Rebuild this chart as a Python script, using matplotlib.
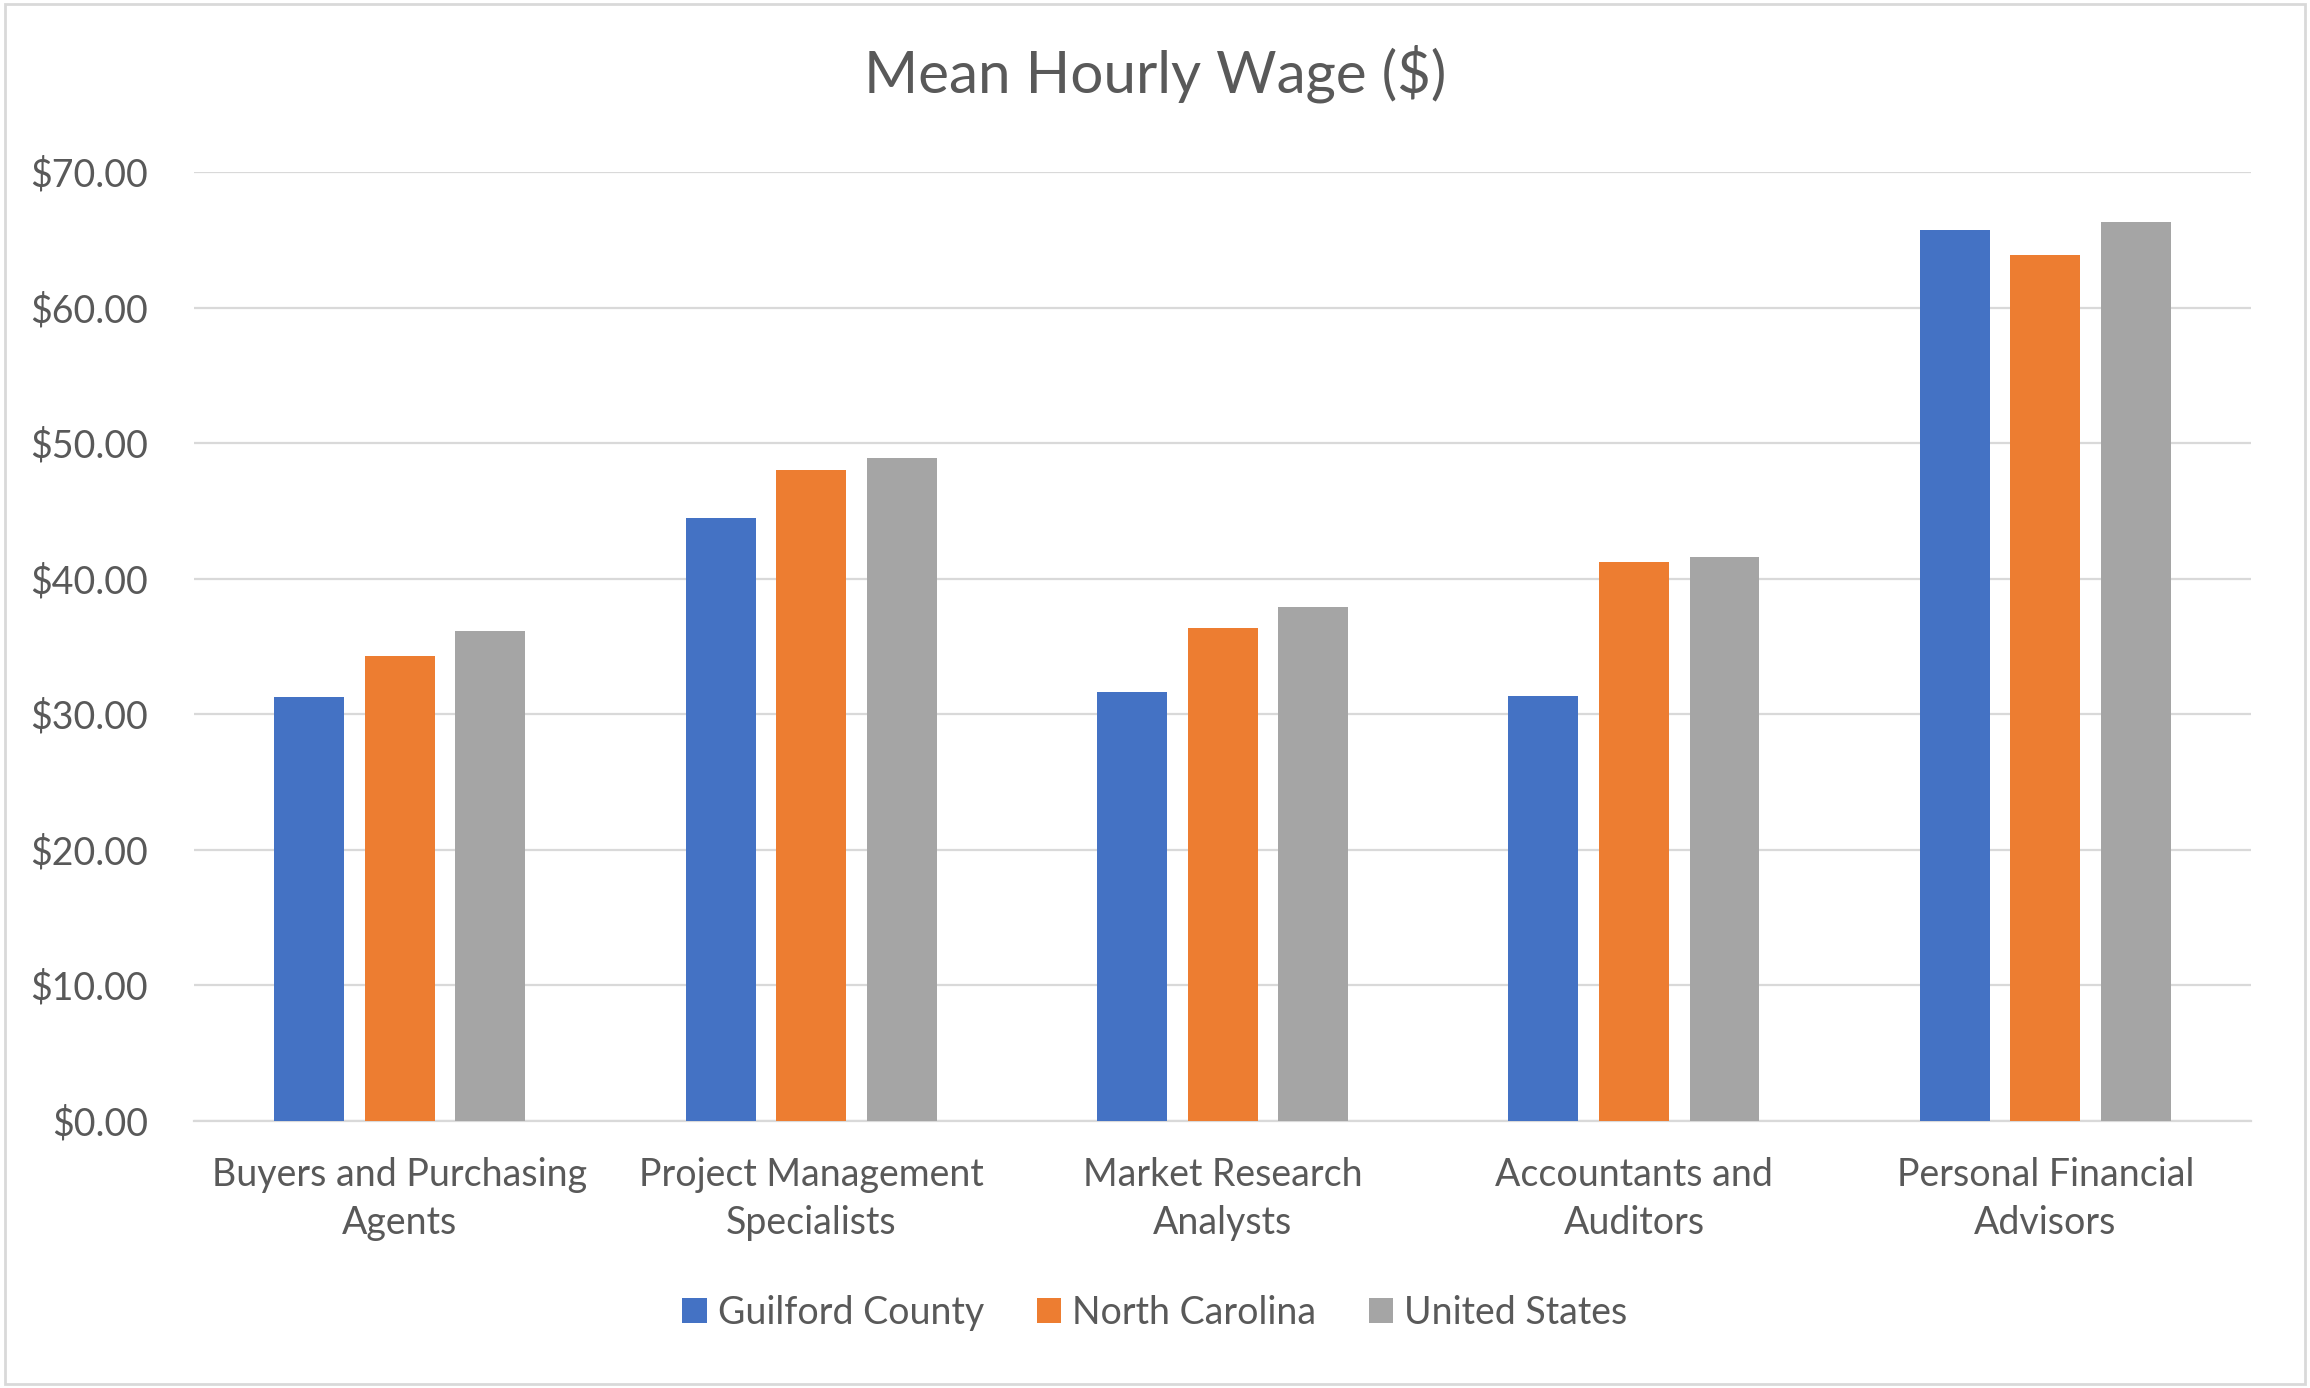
import numpy as np
import matplotlib.pyplot as plt
from matplotlib.patches import Rectangle
from matplotlib.ticker import FuncFormatter

# Данные
categories = ["Buyers and Purchasing\nAgents", "Project Management\nSpecialists",
              "Market Research\nAnalysts", "Accountants and\nAuditors",
              "Personal Financial\nAdvisors"]
guilford = [31.29, 44.46, 31.60, 31.37, 65.70]
north_carolina = [34.27, 48.00, 36.36, 41.20, 63.85]
united_states = [36.12, 48.90, 37.90, 41.60, 66.29]
series_names = ["Guilford County", "North Carolina", "United States"]
colors = ["#4472C4", "#ED7D31", "#A5A5A5"]

plt.rcParams["font.family"] = ["Lato", "DejaVu Sans"]
text_color = "#595959"

fig = plt.figure(figsize=(23.1, 13.88), dpi=100)
ax = fig.add_axes([0.084, 0.1927, 0.8905, 0.6833])

x = np.arange(len(categories))
width = 0.17
step = 0.22
for i, (vals, name, c) in enumerate(zip([guilford, north_carolina, united_states], series_names, colors)):
    ax.bar(x + (i - 1) * step, vals, width, color=c, label=name, zorder=3)

ax.set_xlim(-0.5, len(categories) - 0.5)
ax.set_ylim(0, 70)
ax.set_yticks(np.arange(0, 71, 10))
ax.yaxis.set_major_formatter(FuncFormatter(lambda v, p: f"${v:.2f}"))
ax.set_xticks(x)
ax.set_xticklabels(categories, linespacing=1.42)

ax.grid(axis="y", color="#D9D9D9", linewidth=1.6, zorder=0)
for s in ["top", "right", "left"]:
    ax.spines[s].set_visible(False)
ax.spines["bottom"].set_color("#D9D9D9")
ax.spines["bottom"].set_linewidth(1.6)
ax.tick_params(axis="both", length=0, labelsize=27, labelcolor=text_color)
ax.tick_params(axis="x", pad=26)
ax.tick_params(axis="y", pad=33)

fig.text(0.5, 0.968, "Mean Hourly Wage ($)", ha="center", va="top", fontsize=42, color=text_color)

leg = fig.legend(loc="center", bbox_to_anchor=(0.5, 0.054), ncol=3, frameon=False,
                 fontsize=27, handlelength=0.65, handleheight=0.65, handletextpad=0.3,
                 columnspacing=1.4)
for t in leg.get_texts():
    t.set_color(text_color)

# рамка вокруг графика
fig.patches.append(Rectangle((0.002, 0.003), 0.996, 0.994, transform=fig.transFigure,
                             fill=False, edgecolor="#D9D9D9", linewidth=2))

plt.savefig("out.png", dpi=100)
